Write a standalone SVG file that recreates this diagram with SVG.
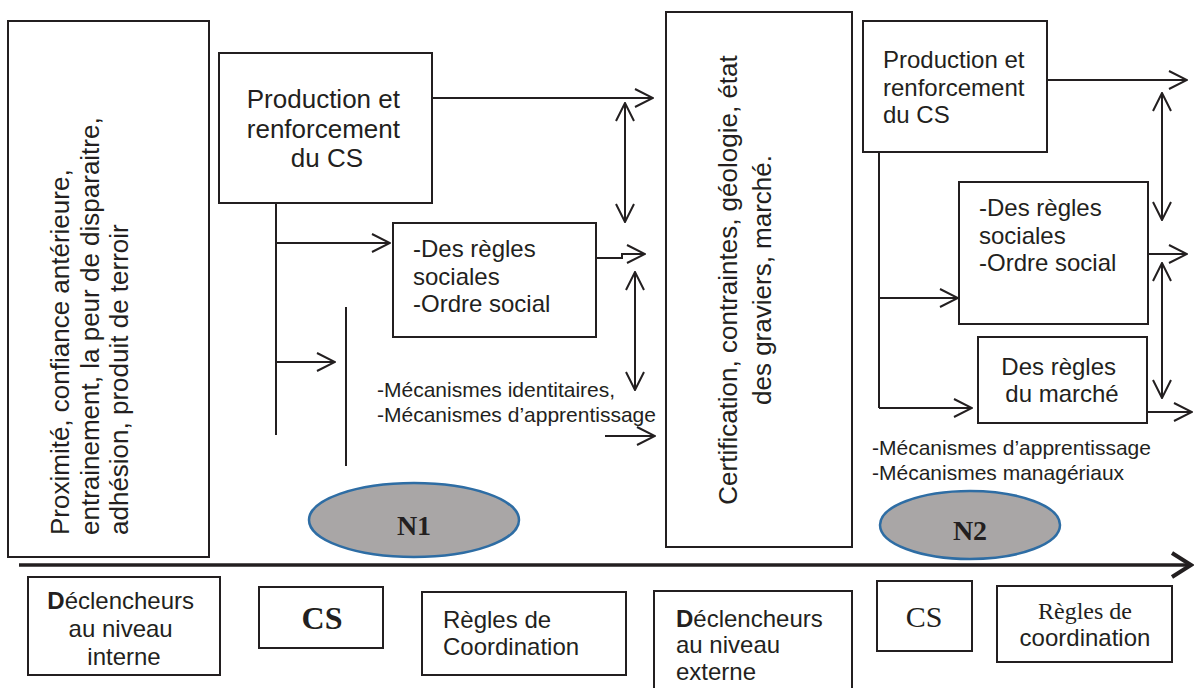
<svg xmlns="http://www.w3.org/2000/svg" width="1194" height="688" viewBox="0 0 1194 688">
<style>
.box{fill:#fff;stroke:#231f20;stroke-width:2}
.t{font-family:"Liberation Sans",Arial,sans-serif;fill:#231f20}
.s{font-family:"Liberation Serif","Times New Roman",serif;fill:#231f20}
.ln{stroke:#231f20;stroke-width:2;fill:none}
.ar{marker-end:url(#ah)}
.db{marker-start:url(#ah);marker-end:url(#ah)}
.ell{fill:#a9a6a6;stroke:#2e6da4;stroke-width:2.5}
</style>
<defs>
<marker id="ah" viewBox="0 0 20 20" refX="19" refY="10" markerWidth="20" markerHeight="20" markerUnits="userSpaceOnUse" orient="auto-start-reverse">
<path d="M1,1 L19,10 L1,19" fill="none" stroke="#231f20" stroke-width="2"/>
</marker>
</defs>
<rect width="1194" height="688" fill="#fff"/>

<g id="connectors">
<line class="ln ar" x1="432" y1="98" x2="653" y2="98"/>
<line class="ln db" x1="625" y1="103" x2="625" y2="222"/>
<line class="ln" x1="276" y1="203" x2="276" y2="435"/>
<line class="ln ar" x1="276" y1="243" x2="390" y2="243"/>
<line class="ln ar" x1="276" y1="362" x2="335" y2="362"/>
<line class="ln" x1="346" y1="307" x2="346" y2="466"/>
<path class="ln ar" d="M596,258 L622,258 L622,254 L645,254"/>
<line class="ln db" x1="635" y1="272" x2="635" y2="390"/>
<line class="ln ar" x1="605" y1="436" x2="655" y2="436"/>
<line class="ln ar" x1="1047" y1="80" x2="1187" y2="80"/>
<line class="ln db" x1="1162" y1="93" x2="1162" y2="220"/>
<line class="ln ar" x1="1148" y1="254" x2="1187" y2="254"/>
<line class="ln" x1="879" y1="152" x2="879" y2="408"/>
<line class="ln ar" x1="879" y1="298" x2="958" y2="298"/>
<line class="ln ar" x1="879" y1="408" x2="972" y2="408"/>
<line class="ln ar" x1="1147" y1="412" x2="1192" y2="412"/>
<line class="ln db" x1="1162" y1="263" x2="1162" y2="398"/>
<line x1="19" y1="565" x2="1189" y2="565" stroke="#231f20" stroke-width="3.5"/>
<polyline points="1172,553 1191,565 1172,577" fill="none" stroke="#231f20" stroke-width="4"/>
</g>

<g id="declencheurs-internes">
<rect class="box" x="8" y="21" width="201" height="536" stroke-width="2.5"/>
<text class="t" font-size="26" transform="translate(69,535) rotate(-90)">
<tspan x="0" y="0">Proximité, confiance antérieure,</tspan>
<tspan x="0" dy="29.5">entrainement, la peur de disparaitre,</tspan>
<tspan x="0" dy="29.5">adhésion, produit de terroir</tspan>
</text>
</g>

<g id="production-cs-1">
<rect class="box" x="219" y="53" width="213" height="150"/>
<text class="t" font-size="26" text-anchor="middle">
<tspan x="327" y="108">Production et</tspan>
<tspan x="327" y="138">renforcement</tspan>
<tspan x="327" y="167">du CS</tspan>
</text>
</g>

<g id="regles-sociales-1">
<rect class="box" x="393" y="223" width="203" height="114"/>
<text class="t" font-size="24">
<tspan x="413" y="257">-Des règles</tspan>
<tspan x="413" y="284.5">sociales</tspan>
<tspan x="413" y="312">-Ordre social</tspan>
</text>
</g>

<g id="mecanismes-1">
<text class="t" font-size="21">
<tspan x="377" y="397">-Mécanismes identitaires,</tspan>
<tspan x="377" y="422">-Mécanismes d’apprentissage</tspan>
</text>
</g>

<g id="n1">
<ellipse class="ell" cx="414" cy="520" rx="105" ry="37"/>
<text class="s" font-size="28" font-weight="bold" text-anchor="middle" x="414" y="535">N1</text>
</g>

<g id="declencheurs-externes">
<rect class="box" x="666" y="12" width="186" height="535"/>
<text class="t" font-size="26" text-anchor="middle" transform="translate(737,280) rotate(-90)" x="0" y="0">Certification, contraintes, géologie, état</text>
<text class="t" font-size="26" text-anchor="middle" transform="translate(771,280) rotate(-90)" x="0" y="0">des graviers, marché.</text>
</g>

<g id="production-cs-2">
<rect class="box" x="863" y="21" width="184" height="131"/>
<text class="t" font-size="24">
<tspan x="883" y="68">Production et</tspan>
<tspan x="883" y="96">renforcement</tspan>
<tspan x="883" y="123"> du CS</tspan>
</text>
</g>

<g id="regles-sociales-2">
<rect class="box" x="959" y="182" width="189" height="142"/>
<text class="t" font-size="24">
<tspan x="979" y="216">-Des règles</tspan>
<tspan x="979" y="243.5">sociales</tspan>
<tspan x="979" y="271">-Ordre social</tspan>
</text>
</g>

<g id="regles-marche">
<rect class="box" x="978" y="337" width="169" height="86"/>
<text class="t" font-size="24" text-anchor="middle">
<tspan x="1062" y="375">Des règles</tspan>
<tspan x="1062" y="402">du marché</tspan>
</text>
</g>

<g id="mecanismes-2">
<text class="t" font-size="21">
<tspan x="872" y="455">-Mécanismes d’apprentissage</tspan>
<tspan x="872" y="480">-Mécanismes managériaux</tspan>
</text>
</g>

<g id="n2">
<ellipse class="ell" cx="970" cy="525" rx="90" ry="34"/>
<text class="s" font-size="28" font-weight="bold" text-anchor="middle" x="970" y="540">N2</text>
</g>

<g id="legend-declencheurs-interne">
<rect class="box" x="28" y="577" width="192" height="98"/>
<text class="t" font-size="24" text-anchor="middle">
<tspan x="124" y="609"><tspan font-weight="bold">D</tspan>éclencheurs</tspan>
<tspan x="124" y="637">au niveau</tspan>
<tspan x="124" y="665">interne</tspan>
</text>
</g>

<g id="legend-cs-1">
<rect class="box" x="259" y="587" width="124" height="61"/>
<text class="s" font-size="32" font-weight="bold" text-anchor="middle" x="322" y="629">CS</text>
</g>

<g id="legend-regles-1">
<rect class="box" x="422" y="592" width="204" height="83"/>
<text class="t" font-size="24">
<tspan x="443" y="628">Règles de</tspan>
<tspan x="443" y="655">Coordination</tspan>
</text>
</g>

<g id="legend-declencheurs-externe">
<rect class="box" x="654" y="591" width="198" height="110"/>
<text class="t" font-size="24">
<tspan x="676" y="627"><tspan font-weight="bold">D</tspan>éclencheurs</tspan>
<tspan x="676" y="653">au niveau</tspan>
<tspan x="676" y="680">externe</tspan>
</text>
</g>

<g id="legend-cs-2">
<rect class="box" x="877" y="581" width="95" height="70"/>
<text class="s" font-size="30" text-anchor="middle" x="924" y="627">CS</text>
</g>

<g id="legend-regles-2">
<rect class="box" x="997" y="586" width="175" height="76"/>
<text class="s" font-size="24" text-anchor="middle" x="1085" y="619">Règles de</text>
<text class="t" font-size="24" text-anchor="middle" x="1085" y="646">coordination</text>
</g>
</svg>
